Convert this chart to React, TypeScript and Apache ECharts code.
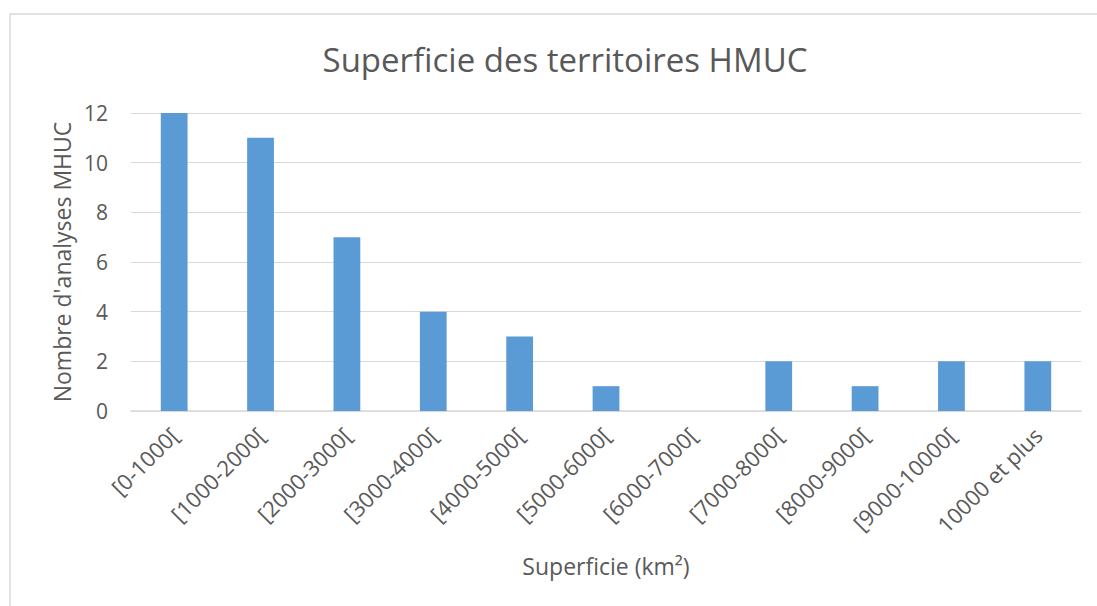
import React, { useEffect, useRef } from "react";
import * as echarts from "echarts";

const categories = [
  "[0-1000[",
  "[1000-2000[",
  "[2000-3000[",
  "[3000-4000[",
  "[4000-5000[",
  "[5000-6000[",
  "[6000-7000[",
  "[7000-8000[",
  "[8000-9000[",
  "[9000-10000[",
  "10000 et plus",
];
const counts = [12, 11, 7, 4, 3, 1, 0, 2, 1, 2, 2];
const titleText = "Superficie des territoires HMUC";
const xName = "Superficie (km²)";
const yName = "Nombre d'analyses MHUC";

const FONT = "'Open Sans', 'Noto Sans', sans-serif";
const GREY = "#595959";

export default function App() {
  const ref = useRef<HTMLDivElement>(null);
  useEffect(() => {
    if (!ref.current) return;
    const chart = echarts.init(ref.current, null, { renderer: "svg" });
    chart.setOption({
      animation: false,
      backgroundColor: "#ffffff",
      textStyle: { fontFamily: FONT },
      title: {
        text: titleText,
        left: 560,
        top: 38,
        textAlign: "center",
        textStyle: { fontFamily: FONT, fontSize: 33, fontWeight: "normal", color: GREY },
      },
      graphic: [
        {
          type: "rect",
          shape: { x: 10, y: 14, width: 1100, height: 600 },
          style: { fill: "none", stroke: "#d9d9d9", lineWidth: 1.5 },
          silent: true,
        },
      ],
      grid: { left: 131, right: 16, top: 113, bottom: 195, containLabel: false },
      xAxis: {
        type: "category",
        data: categories,
        name: xName,
        nameLocation: "middle",
        nameGap: 143,
        nameTextStyle: { fontFamily: FONT, fontSize: 23, color: GREY },
        axisLine: { lineStyle: { color: "#d9d9d9", width: 1.5 } },
        axisTick: { show: false },
        axisLabel: {
          rotate: 45,
          margin: 20,
          interval: 0,
          fontFamily: FONT,
          fontSize: 22,
          color: GREY,
        },
      },
      yAxis: {
        type: "value",
        min: 0,
        max: 12,
        interval: 2,
        name: yName,
        nameLocation: "middle",
        nameGap: 57,
        nameTextStyle: { fontFamily: FONT, fontSize: 23, color: GREY },
        axisLine: { show: false },
        axisTick: { show: false },
        axisLabel: { margin: 23, fontFamily: FONT, fontSize: 21, color: GREY },
        splitLine: { lineStyle: { color: "#d9d9d9", width: 1 } },
      },
      series: [
        {
          type: "bar",
          data: counts,
          barWidth: "31%",
          itemStyle: { color: "#5b9bd5" },
        },
      ],
    });
    return () => chart.dispose();
  }, []);
  return (
    <div
      ref={ref}
      style={{ position: "fixed", left: 0, top: 0, width: 1097, height: 606 }}
    />
  );
}
